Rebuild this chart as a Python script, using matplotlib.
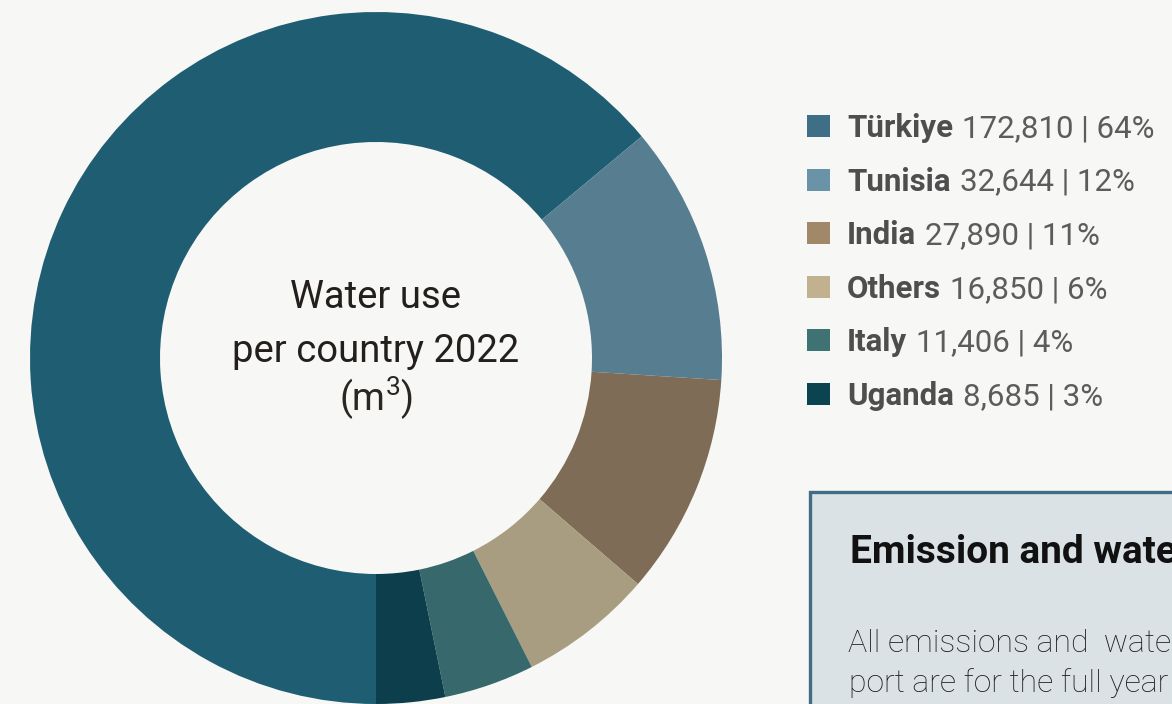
import matplotlib
matplotlib.use("Agg")
from matplotlib import pyplot as plt
from matplotlib.patches import Rectangle

countries = ['Türkiye', 'Tunisia', 'India', 'Others', 'Italy', 'Uganda']
water_m3 = [172810, 32644, 27890, 16850, 11406, 8685]
shares = ['64%', '12%', '11%', '6%', '4%', '3%']

ring_colors = ['#1f5e72', '#567d90', '#7e6c56', '#a89d80', '#37686b', '#0c3f4b']
key_colors = ['#3f6f86', '#6b93a8', '#a08868', '#c2b18f', '#3f7272', '#0b4350']

plt.rcParams['mathtext.fontset'] = 'custom'
plt.rcParams['mathtext.rm'] = 'Roboto'
plt.rcParams['mathtext.it'] = 'Roboto'

H = 704
bg = '#f7f7f5'

fig = plt.figure(figsize=(11.72, 7.04), dpi=100, facecolor=bg)
ax = fig.add_axes([0, 0, 1, 1])
ax.set_facecolor(bg)

# donut, centre in pixel coords
cx, cy, R = 376, H - 358, 346
ax.pie(water_m3, colors=ring_colors, startangle=-90, counterclock=False,
       center=(cx, cy), radius=R,
       wedgeprops=dict(width=130, linewidth=0, antialiased=True))
ax.set_xlim(0, 1172)
ax.set_ylim(0, H)
ax.set_aspect('auto')
ax.axis('off')

ax.text(cx, H - 308, 'Water use', ha='center', va='baseline', fontsize=27.5,
        family='Roboto', weight='normal', color='#231f1c')
ax.text(cx, H - 362, 'per country 2022', ha='center', va='baseline', fontsize=27.5,
        family='Roboto', weight='normal', color='#231f1c')
ax.text(cx, H - 411, r'(m$^\mathrm{3}$)', ha='center', va='baseline', fontsize=27,
        family='Roboto', weight='normal', color='#2a2622')

# legend
for i, (name, val, pct) in enumerate(zip(countries, water_m3, shares)):
    base = 137 + 53.6 * i
    ax.add_patch(Rectangle((807, H - base), 23, 22, facecolor=key_colors[i],
                           edgecolor='none'))
    t = ax.text(847, H - base, name, ha='left', va='baseline', fontsize=22.5,
                family='Roboto', weight='bold', color='#4e4e4e')
    ax.annotate(f'{val:,} | {pct}', xy=(1, 0), xycoords=t,
                xytext=(9, 0), textcoords='offset pixels',
                ha='left', va='bottom', fontsize=22.5,
                family='Roboto', weight='normal', color='#5c5c5c')

# info box, runs off the figure edge
ax.add_patch(Rectangle((809.5, -20), 500, H - 491.5 + 20, facecolor='#dae2e5',
                       edgecolor='#3e6d85', linewidth=2.4))
ax.text(850, H - 563, 'Emission and water data', ha='left', va='baseline',
        fontsize=28, family='Roboto', weight='bold', color='#111111')
ax.text(848, H - 652, 'All emissions and  water use', ha='left', va='baseline',
        fontsize=23, family='Roboto', weight='light', color='#1c1c1c')
ax.text(849, H - 692, 'port are for the full year', ha='left', va='baseline',
        fontsize=23, family='Roboto', weight='light', color='#1c1c1c')

fig.savefig('out.png', dpi=100, facecolor=bg)
